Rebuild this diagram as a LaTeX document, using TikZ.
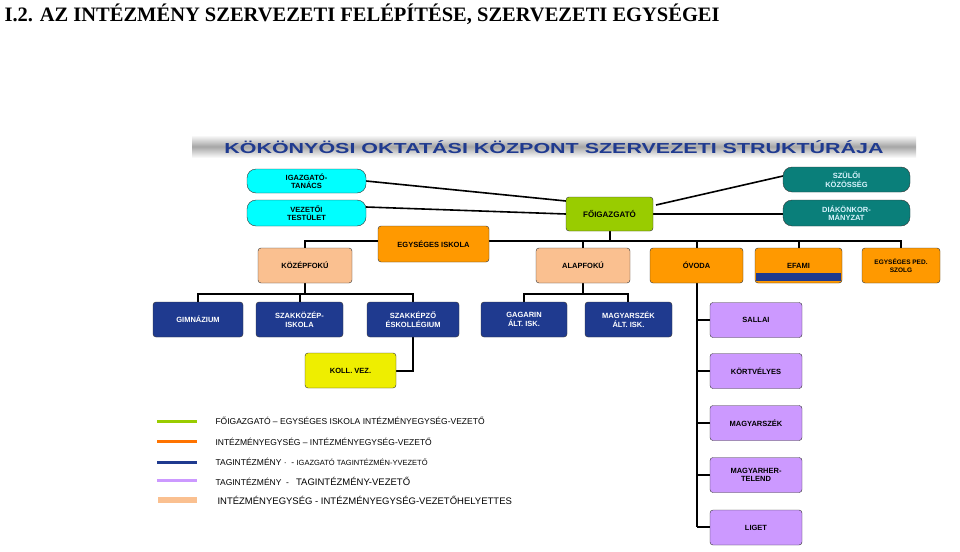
\documentclass[tikz,border=0pt]{standalone}
\usepackage{fontspec}
\setmainfont{Liberation Sans}
\newfontfamily\serifb{Liberation Serif}
\usetikzlibrary{positioning}
\definecolor{navyb}{HTML}{1F3A8F}
\definecolor{cyanb}{HTML}{00FFFF}
\definecolor{tealb}{HTML}{0A7F7A}
\definecolor{greenb}{HTML}{99CC00}
\definecolor{orangeb}{HTML}{FF9900}
\definecolor{peachb}{HTML}{FAC090}
\definecolor{purpb}{HTML}{CC99FF}
\definecolor{yelb}{HTML}{EEEE00}
\begin{document}
\begin{tikzpicture}[x=1pt,y=-1pt,
 bx/.style={draw=black!80,rounded corners=3pt,align=center,font=\bfseries\fontsize{7.5}{8.5}\selectfont,inner sep=1pt},
 pill/.style={bx,rounded corners=9pt},
 ln/.style={line width=1.6pt,black},
 lg/.style={line width=3pt},
 lt/.style={anchor=west,font=\fontsize{8.5}{10}\selectfont}]
\useasboundingbox (0,0) rectangle (960,551);
\node[anchor=west,font=\serifb\bfseries\fontsize{20.5}{22}\selectfont] (title) at (1,14) {I.2. AZ INTÉZMÉNY SZERVEZETI FELÉPÍTÉSE, SZERVEZETI EGYSÉGEI};
\shade[top color=white,bottom color=white,middle color=gray!70] (192,135) rectangle (916,158);
\node[font=\fontsize{14.5}{16}\selectfont\bfseries,text=navyb,xscale=1.48] (banner) at (554,147) {KÖKÖNYÖSI OKTATÁSI KÖZPONT SZERVEZETI STRUKTÚRÁJA};
% connectors first
\draw[ln] (366,181) -- (566,201);
\draw[ln] (366,207) -- (566,214);
\draw[ln] (783,176) -- (656,205);
\draw[ln] (783,214) -- (653,214);
\draw[ln] (610,231) -- (610,241);
\draw[ln] (305,248) -- (305,241) -- (901,241) -- (901,248);
\foreach \x in {583,697,799} \draw[ln] (\x,241) -- (\x,248);
\draw[ln] (305,283) -- (305,294);
\draw[ln] (198,302) -- (198,294) -- (413,294) -- (413,302);
\draw[ln] (300,294) -- (300,302);
\draw[ln] (583,283) -- (583,294);
\draw[ln] (524,302) -- (524,294) -- (628,294) -- (628,302);
\draw[ln] (413,337) -- (413,371) -- (396,371);
\draw[ln] (697,283) -- (697,527);
\foreach \y in {320,371,423,475,527} \draw[ln] (697,\y) -- (710,\y);
% nodes
\node[pill,fill=cyanb,minimum width=119pt,minimum height=24pt] (igt) at (306.5,181) {IGAZGATÓ-\\TANÁCS};
\node[pill,fill=cyanb,minimum width=119pt,minimum height=26pt] (vt) at (306.5,213) {VEZETŐI\\TESTÜLET};
\node[bx,fill=greenb,minimum width=87pt,minimum height=34pt,font=\bfseries\fontsize{8}{9}\selectfont] (fo) at (609.5,214) {FŐIGAZGATÓ};
\node[pill,fill=tealb,text=white!85!cyan,minimum width=127pt,minimum height=25pt] (szk) at (846.5,179.5) {SZÜLŐI\\KÖZÖSSÉG};
\node[pill,fill=tealb,text=white!85!cyan,minimum width=127pt,minimum height=26pt] (dk) at (846.5,213) {DIÁKÖNKOR-\\MÁNYZAT};
\node[bx,fill=orangeb,minimum width=111pt,minimum height=36pt] (ei) at (433.5,244) {EGYSÉGES ISKOLA};
\node[bx,fill=peachb,minimum width=94pt,minimum height=35pt] (kp) at (305,265.5) {KÖZÉPFOKÚ};
\node[bx,fill=peachb,minimum width=94pt,minimum height=35pt] (ap) at (583,265.5) {ALAPFOKÚ};
\node[bx,fill=orangeb,minimum width=93pt,minimum height=35pt] (ov) at (696.5,265.5) {ÓVODA};
\node[bx,fill=orangeb,minimum width=87pt,minimum height=35pt] (ef) at (798.5,265.5) {EFAMI};
\fill[navyb] (756,273) rectangle (841,281);
\node[bx,fill=orangeb,minimum width=78pt,minimum height=35pt,font=\bfseries\fontsize{6.5}{8}\selectfont] (ped) at (901,265.5) {EGYSÉGES PED.\\SZOLG};
\tikzset{nv/.style={bx,fill=navyb,text=white,minimum height=35pt}}
\node[nv,minimum width=90pt] (gim) at (198,319.5) {GIMNÁZIUM};
\node[nv,minimum width=87pt] (szkoz) at (299.5,319.5) {SZAKKÖZÉP-\\ISKOLA};
\node[nv,minimum width=92pt] (szkep) at (413,319.5) {SZAKKÉPZŐ\\ÉSKOLLÉGIUM};
\node[nv,minimum width=86pt] (gag) at (524,319.5) {GAGARIN\\ÁLT. ISK.};
\node[nv,minimum width=87pt] (mgy) at (628.5,319.5) {MAGYARSZÉK\\ÁLT. ISK.};
\tikzset{pu/.style={bx,fill=purpb,minimum width=92pt,minimum height=35pt}}
\node[pu] (sal) at (756,320) {SALLAI};
\node[pu] (kort) at (756,371) {KÖRTVÉLYES};
\node[pu] (msz) at (756,423) {MAGYARSZÉK};
\node[pu] (mht) at (756,475) {MAGYARHER-\\TELEND};
\node[pu] (lig) at (756,527.5) {LIGET};
\node[bx,fill=yelb,minimum width=91pt,minimum height=35pt] (koll) at (350.5,370.5) {KOLL. VEZ.};
% legend
\draw[lg,greenb] (157,421) -- (197,421);
\draw[lg,orange!90!red] (157,441) -- (197,441);
\draw[lg,navyb] (157,462) -- (197,462);
\draw[lg,purpb] (157,480) -- (197,480);
\draw[line width=6pt,peachb] (158,500) -- (197,500);
\node[lt] (l1) at (212,421) {FŐIGAZGATÓ – EGYSÉGES ISKOLA INTÉZMÉNYEGYSÉG-VEZETŐ};
\node[lt] (l2) at (212,442) {INTÉZMÉNYEGYSÉG – INTÉZMÉNYEGYSÉG-VEZETŐ};
\node[lt] (l3) at (212,462) {TAGINTÉZMÉNY \textperiodcentered\ \ - {\fontsize{7.5}{9}\selectfont IGAZGATÓ TAGINTÉZMÉN-YVEZETŐ}};
\node[lt] (l4) at (212,481) {TAGINTÉZMÉNY \ -\ \ \ {\fontsize{9.5}{11}\selectfont TAGINTÉZMÉNY-VEZETŐ}};
\node[lt,font=\fontsize{9.5}{11}\selectfont] (l5) at (214,500) {INTÉZMÉNYEGYSÉG - INTÉZMÉNYEGYSÉG-VEZETŐHELYETTES};
\end{tikzpicture}
\end{document}
